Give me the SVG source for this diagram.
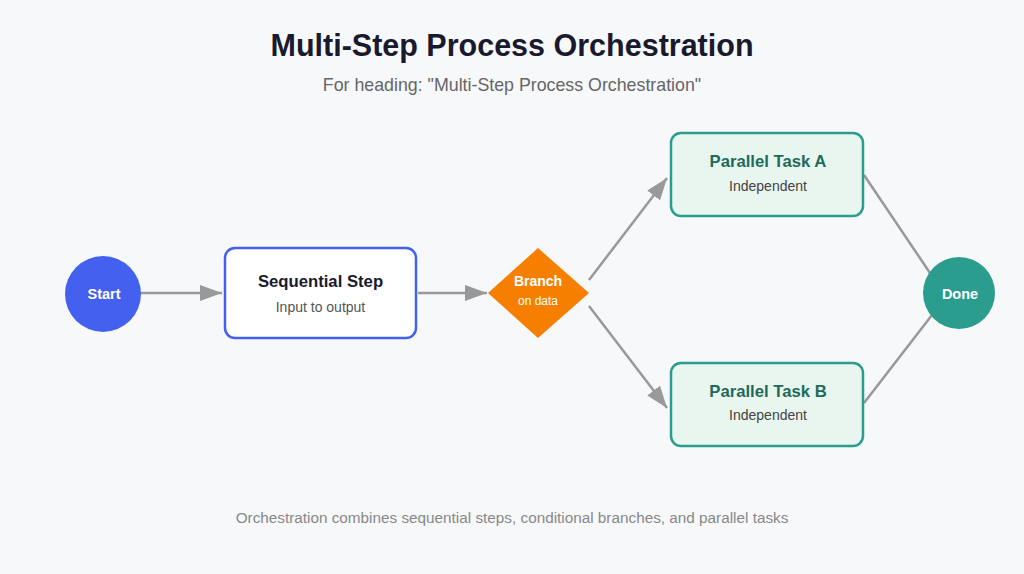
<svg xmlns="http://www.w3.org/2000/svg" width="1024" height="574" viewBox="0 0 1024 574">
<defs>
<style>
.t{font-family:"Liberation Sans",Arial,sans-serif;text-anchor:middle}
.conn{stroke:#999;stroke-width:2.5;fill:none}
.task{fill:#e9f5ef;stroke:#2a9d8f;stroke-width:2.5}
</style>
<marker id="ah2" viewBox="0 0 22 16" markerWidth="22" markerHeight="16" refX="22" refY="8" orient="auto" markerUnits="userSpaceOnUse"><path d="M0,0 L22,8 L0,16 Z" fill="#999"/></marker>
</defs>
<rect width="1024" height="574" fill="#f7f8fa"/>
<text class="t" x="512" y="56" font-size="30.500" font-weight="bold" fill="#1a1a2e">Multi-Step Process Orchestration</text>
<text class="t" x="512" y="91" font-size="17.800" fill="#666">For heading: "Multi-Step Process Orchestration"</text>
<g id="connectors">
<line class="conn" x1="141" y1="293" x2="222" y2="293" marker-end="url(#ah2)"/>
<line class="conn" x1="418" y1="293" x2="487" y2="293" marker-end="url(#ah2)"/>
<line class="conn" x1="589" y1="280" x2="667" y2="178" marker-end="url(#ah2)"/>
<line class="conn" x1="589" y1="306" x2="667" y2="408" marker-end="url(#ah2)"/>
<line class="conn" x1="864" y1="175" x2="930" y2="273"/>
<line class="conn" x1="864" y1="403" x2="932" y2="315"/>
</g>
<g id="start">
<circle cx="103" cy="294" r="38" fill="#4361ee"/>
<text class="t" x="104" y="299" font-size="14.500" font-weight="bold" fill="#fff">Start</text>
</g>
<g id="sequential">
<rect x="225" y="248" width="191" height="90" rx="10" fill="#fff" stroke="#4361ee" stroke-width="2.5"/>
<text class="t" x="320.500" y="287" font-size="16.700" font-weight="bold" fill="#1a1a2e">Sequential Step</text>
<text class="t" x="320.500" y="312" font-size="14" fill="#555">Input to output</text>
</g>
<g id="branch">
<polygon points="538,248 589,293 538,338 488,293" fill="#f77f00"/>
<text class="t" x="538" y="286" font-size="14" font-weight="bold" fill="#fff">Branch</text>
<text class="t" x="538" y="305" font-size="12" fill="#fff">on data</text>
</g>
<g id="taskA">
<rect class="task" x="671" y="133" width="192" height="83" rx="10"/>
<text class="t" x="768" y="167" font-size="16.700" font-weight="bold" fill="#1e6b5c">Parallel Task A</text>
<text class="t" x="768" y="191" font-size="14" fill="#444">Independent</text>
</g>
<g id="taskB">
<rect class="task" x="671" y="363" width="192" height="83" rx="10"/>
<text class="t" x="768" y="397" font-size="16.700" font-weight="bold" fill="#1e6b5c">Parallel Task B</text>
<text class="t" x="768" y="420" font-size="14" fill="#444">Independent</text>
</g>
<g id="done">
<circle cx="959" cy="293" r="36" fill="#2a9d8f"/>
<text class="t" x="960" y="299" font-size="14.500" font-weight="bold" fill="#fff">Done</text>
</g>
<text class="t" x="512" y="523" font-size="15.300" fill="#888">Orchestration combines sequential steps, conditional branches, and parallel tasks</text>
</svg>
